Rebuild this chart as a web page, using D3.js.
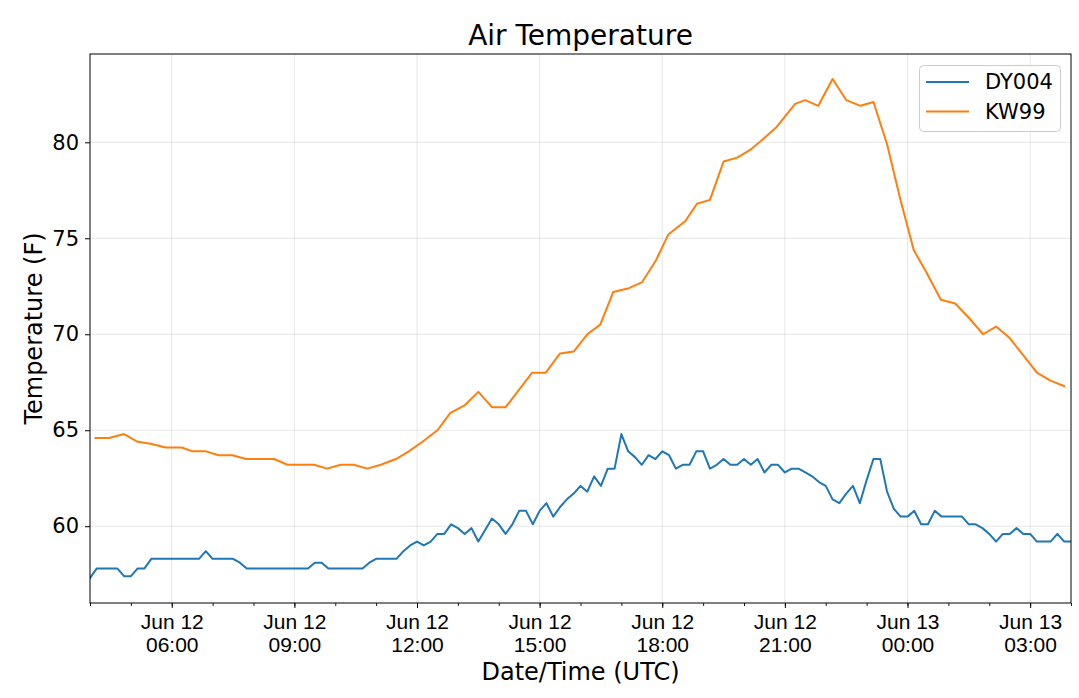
<!DOCTYPE html>
<html>
<head>
<meta charset="utf-8">
<script src="https://cdn.jsdelivr.net/npm/d3@7"></script>
<style>
  html, body { margin: 0; padding: 0; background: #fff; }
  svg { display: block; font-family: "DejaVu Sans", sans-serif; }
</style>
</head>
<body>
<svg id="chart" width="1079" height="698"></svg>
<script>
// ---- Data ----
const titleText = "Air Temperature";
const xLabel = "Date/Time (UTC)";
const yLabel = "Temperature (F)";
const seriesNames = ["DY004", "KW99"];
const seriesColors = ["#1f77b4", "#ff7f0e"];

// DY004: 10-minute observations, starting Jun 12 04:00 UTC
const dyStart = "06-12 04:00";
const dyStepMinutes = 10;
const dyValues = [
  57.3, 57.8, 57.8, 57.8, 57.8, 57.4,
  57.4, 57.8, 57.8, 58.3, 58.3, 58.3,
  58.3, 58.3, 58.3, 58.3, 58.3, 58.7,
  58.3, 58.3, 58.3, 58.3, 58.1, 57.8,
  57.8, 57.8, 57.8, 57.8, 57.8, 57.8,
  57.8, 57.8, 57.8, 58.1, 58.1, 57.8,
  57.8, 57.8, 57.8, 57.8, 57.8, 58.1,
  58.3, 58.3, 58.3, 58.3, 58.7, 59.0,
  59.2, 59.0, 59.2, 59.6, 59.6, 60.1,
  59.9, 59.6, 59.9, 59.2, 59.8, 60.4,
  60.1, 59.6, 60.1, 60.8, 60.8, 60.1,
  60.8, 61.2, 60.5, 61.0, 61.4, 61.7,
  62.1, 61.8, 62.6, 62.1, 63.0, 63.0,
  64.8, 63.9, 63.6, 63.2, 63.7, 63.5,
  63.9, 63.7, 63.0, 63.2, 63.2, 63.9,
  63.9, 63.0, 63.2, 63.5, 63.2, 63.2,
  63.5, 63.2, 63.5, 62.8, 63.2, 63.2,
  62.8, 63.0, 63.0, 62.8, 62.6, 62.3,
  62.1, 61.4, 61.2, 61.7, 62.1, 61.2,
  62.4, 63.5, 63.5, 61.8, 60.9, 60.5,
  60.5, 60.8, 60.1, 60.1, 60.8, 60.5,
  60.5, 60.5, 60.5, 60.1, 60.1, 59.9,
  59.6, 59.2, 59.6, 59.6, 59.9, 59.6,
  59.6, 59.2, 59.2, 59.2, 59.6, 59.2,
  59.2
];

// KW99: irregular observations (times UTC, Jun 12 04:08 .. Jun 13 03:50)
const kwTimes = [
  "06-12 04:08","06-12 04:28","06-12 04:50","06-12 05:10","06-12 05:29","06-12 05:51",
  "06-12 06:15","06-12 06:30","06-12 06:50","06-12 07:09","06-12 07:29","06-12 07:49",
  "06-12 08:09","06-12 08:30","06-12 08:50","06-12 09:09","06-12 09:29","06-12 09:48",
  "06-12 10:08","06-12 10:27","06-12 10:47","06-12 11:07","06-12 11:29","06-12 11:48",
  "06-12 12:08","06-12 12:30","06-12 12:49","06-12 13:10","06-12 13:30","06-12 13:50",
  "06-12 14:10","06-12 14:49","06-12 15:09","06-12 15:30","06-12 15:50","06-12 16:10",
  "06-12 16:29","06-12 16:48","06-12 17:11","06-12 17:30","06-12 17:50","06-12 18:09",
  "06-12 18:34","06-12 18:51","06-12 19:10","06-12 19:30","06-12 19:50","06-12 20:09",
  "06-12 20:29","06-12 20:48","06-12 21:15","06-12 21:30","06-12 21:49","06-12 22:10",
  "06-12 22:30","06-12 22:51","06-12 23:10","06-12 23:30","06-12 23:49","06-13 00:09",
  "06-13 00:28","06-13 00:49","06-13 01:10","06-13 01:29","06-13 01:51","06-13 02:10",
  "06-13 02:30","06-13 02:50","06-13 03:10","06-13 03:29","06-13 03:50"
];
const kwValues = [
  64.6, 64.6, 64.8, 64.4, 64.3, 64.1,
  64.1, 63.9, 63.9, 63.7, 63.7, 63.5,
  63.5, 63.5, 63.2, 63.2, 63.2, 63.0,
  63.2, 63.2, 63.0, 63.2, 63.5, 63.9,
  64.4, 65.0, 65.9, 66.3, 67.0, 66.2,
  66.2, 68.0, 68.0, 69.0, 69.1, 70.0,
  70.5, 72.2, 72.4, 72.7, 73.8, 75.2,
  75.9, 76.8, 77.0, 79.0, 79.2, 79.6,
  80.2, 80.8, 82.0, 82.2, 81.9, 83.3,
  82.2, 81.9, 82.1, 79.9, 77.1, 74.4,
  73.2, 71.8, 71.6, 70.9, 70.0, 70.4,
  69.8, 68.9, 68.0, 67.6, 67.3
];
const yTickValues = [60, 65, 70, 75, 80];

// ---- Build ----
const parse = d3.utcParse("%Y-%m-%d %H:%M");
const YEAR = "2019";
const t0 = parse(YEAR + "-" + dyStart);
const dySeries = dyValues.map((v, i) => ({ t: d3.utcMinute.offset(t0, i * dyStepMinutes), v }));
const kwSeries = kwTimes.map((s, i) => ({ t: parse(YEAR + "-" + s), v: kwValues[i] }));
const allSeries = [dySeries, kwSeries];

const svg = d3.select("#chart");
const m = { left: 90, right: 1071, top: 54, bottom: 603 };

const xDomain = d3.extent(dySeries.concat(kwSeries), d => d.t);
const x = d3.scaleUtc().domain(xDomain).range([m.left, m.right]);

const allV = dyValues.concat(kwValues);
const vMin = d3.min(allV), vMax = d3.max(allV), pad = (vMax - vMin) * 0.05;
const y = d3.scaleLinear().domain([vMin - pad, vMax + pad]).range([m.bottom, m.top]);

const majorTicks = d3.utcHour.every(3).range(xDomain[0], xDomain[1]);
const minorTicks = d3.utcHour.every(1).range(xDomain[0], d3.utcMinute.offset(xDomain[1], 1));

// grid
const grid = svg.append("g");
grid.selectAll("line.gx").data(majorTicks).join("line")
  .attr("x1", d => x(d)).attr("x2", d => x(d))
  .attr("y1", m.top).attr("y2", m.bottom)
  .attr("stroke", "#b0b0b0").attr("stroke-opacity", 0.3).attr("stroke-width", 1);
grid.selectAll("line.gy").data(yTickValues).join("line")
  .attr("x1", m.left).attr("x2", m.right)
  .attr("y1", d => y(d)).attr("y2", d => y(d))
  .attr("stroke", "#b0b0b0").attr("stroke-opacity", 0.3).attr("stroke-width", 1);

// lines
const line = d3.line().x(d => x(d.t)).y(d => y(d.v));
svg.append("clipPath").attr("id", "clip").append("rect")
  .attr("x", m.left).attr("y", m.top).attr("width", m.right - m.left).attr("height", m.bottom - m.top);
svg.append("g").attr("clip-path", "url(#clip)")
  .selectAll("path").data(allSeries).join("path")
  .attr("d", line)
  .attr("fill", "none")
  .attr("stroke", (d, i) => seriesColors[i])
  .attr("stroke-width", 2)
  .attr("stroke-linejoin", "round")
  .attr("stroke-linecap", "square");

// x axis (minor)
svg.append("g").attr("transform", `translate(0,${m.bottom})`)
  .call(d3.axisBottom(x).tickValues(minorTicks).tickSize(3).tickFormat(""))
  .call(g => g.select(".domain").remove())
  .call(g => g.selectAll("line").attr("stroke", "#000").attr("stroke-width", 0.9));

// x axis (major)
const fmtDay = d3.utcFormat("%b %d"), fmtTime = d3.utcFormat("%H:%M");
const xAxisG = svg.append("g").attr("transform", `translate(0,${m.bottom})`)
  .call(d3.axisBottom(x).tickValues(majorTicks).tickSize(5).tickPadding(8).tickFormat(""));
xAxisG.select(".domain").remove();
xAxisG.selectAll("line").attr("stroke", "#000").attr("stroke-width", 1);
xAxisG.selectAll(".tick").each(function (d) {
  const t = d3.select(this).append("text")
    .attr("fill", "#000").attr("font-size", 21).attr("text-anchor", "middle");
  t.append("tspan").attr("x", 0).attr("y", 26).text(fmtDay(d));
  t.append("tspan").attr("x", 0).attr("y", 49).text(fmtTime(d));
});

// y axis
const yAxisG = svg.append("g").attr("transform", `translate(${m.left},0)`)
  .call(d3.axisLeft(y).tickValues(yTickValues).tickSize(5).tickPadding(6).tickFormat(d3.format("d")));
yAxisG.select(".domain").remove();
yAxisG.selectAll("line").attr("stroke", "#000");
yAxisG.selectAll("text").attr("font-size", 21).attr("fill", "#000")
  .attr("font-family", "DejaVu Sans, sans-serif");

// frame
svg.append("rect").attr("x", m.left).attr("y", m.top)
  .attr("width", m.right - m.left).attr("height", m.bottom - m.top)
  .attr("fill", "none").attr("stroke", "#000").attr("stroke-width", 1);

// title & labels
svg.append("text").attr("x", (m.left + m.right) / 2).attr("y", 45)
  .attr("text-anchor", "middle").attr("font-size", 28).attr("fill", "#000").text(titleText);
svg.append("text").attr("x", (m.left + m.right) / 2).attr("y", 680)
  .attr("text-anchor", "middle").attr("font-size", 24).attr("fill", "#000").text(xLabel);
svg.append("text").attr("transform", `translate(42,${(m.top + m.bottom) / 2}) rotate(-90)`)
  .attr("text-anchor", "middle").attr("font-size", 24).attr("fill", "#000").text(yLabel);

// legend
const lg = svg.append("g");
lg.append("rect").attr("x", 919.5).attr("y", 65.5).attr("width", 141).attr("height", 66)
  .attr("rx", 4).attr("fill", "#fff").attr("fill-opacity", 0.8)
  .attr("stroke", "#cccccc").attr("stroke-width", 1);
seriesNames.forEach((name, i) => {
  const yy = 82 + i * 29.5;
  lg.append("line").attr("x1", 926).attr("x2", 969).attr("y1", yy).attr("y2", yy)
    .attr("stroke", seriesColors[i]).attr("stroke-width", 2);
  lg.append("text").attr("x", 985).attr("y", yy + 7).attr("font-size", 21)
    .attr("fill", "#000").text(name);
});
</script>
</body>
</html>
